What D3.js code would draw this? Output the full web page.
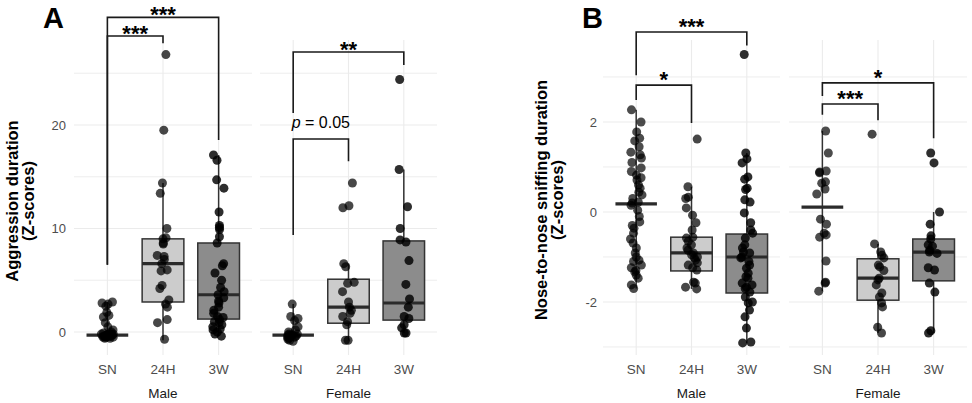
<!DOCTYPE html>
<html><head><meta charset="utf-8">
<script src="https://cdn.jsdelivr.net/npm/d3@7"></script>
<style>body{margin:0;background:#fff}svg{display:block;font-family:"Liberation Sans",Arial,Helvetica,sans-serif}</style>
</head><body><svg id="c" width="972" height="403"></svg>
<script>
// ---------- categories / ticks ----------
const groups = ["SN", "24H", "3W"];
const sexes = ["Male", "Female"];
const aggTicks = [0, 10, 20];
const aggMinor = [5, 15, 25];
const sniffTicks = [-2, 0, 2];
const sniffMinor = [-3, -1, 1, 3];

// ---------- Panel A: aggression duration (Z-scores) ----------
const aggMaleSN = [2.9, 2.8, 2.7, 2.5, 1.9, 1.6, 1.45, 0.9, 0.5, 0.2, 0.0, -0.1, -0.2, -0.2, -0.3, -0.3, -0.3, -0.3, -0.4, -0.4, -0.4, -0.4, -0.5, -0.5, -0.5, -0.3, -0.2, -0.4, -0.3, -0.5, -0.6, -0.6];
const aggMale24H = [26.8, 19.5, 14.4, 13.4, 10.0, 9.1, 9.0, 8.6, 8.5, 7.4, 7.3, 7.0, 6.6, 6.0, 5.9, 4.5, 4.2, 3.1, 2.7, 2.4, 1.2, 0.9, -0.7];
const aggMale3W = [17.1, 16.6, 14.7, 13.9, 11.6, 10.3, 10.1, 9.9, 9.2, 8.6, 6.6, 6.4, 5.7, 5.0, 4.3, 3.9, 3.6, 3.3, 3.0, 2.8, 2.4, 2.1, 1.8, 1.5, 1.4, 1.2, 1.0, 0.9, 0.7, 0.5, 0.3, 0.2, 0.0, -0.2, -0.4];
const aggFemaleSN = [2.7, 1.5, 1.3, 1.1, 0.5, 0.2, 0.0, -0.2, -0.3, -0.3, -0.4, -0.5, -0.6, -0.7, -0.8, -0.9, -0.3, -0.2, -0.5];
const aggFemale24H = [14.4, 12.2, 12.0, 6.6, 6.3, 4.8, 4.7, 3.9, 2.9, 2.4, 2.1, 1.8, 1.5, 1.0, 0.7, -0.8, -0.8];
const aggFemale3W = [24.4, 15.7, 12.1, 10.0, 8.9, 8.7, 6.9, 4.6, 3.2, 2.4, 1.5, 1.3, 0.7, 0.4, -0.1, -0.1];

// box statistics (SN, 24H, 3W); null = no box drawn
const aggMaleQ1 = [null, 2.9, 1.25];
const aggMaleMed = [-0.3, 6.6, 3.6];
const aggMaleQ3 = [null, 9.0, 8.6];
const aggMaleLo = [-0.5, -0.8, -0.4];
const aggMaleHi = [2.9, 14.4, 17.1];
const aggFemaleQ1 = [null, 0.85, 1.15];
const aggFemaleMed = [-0.3, 2.4, 2.8];
const aggFemaleQ3 = [null, 5.1, 8.8];
const aggFemaleLo = [-0.9, -0.8, -0.1];
const aggFemaleHi = [2.7, 6.6, 15.7];

// significance brackets: [from, to, top, leftEnd, rightEnd, label]
const aggMaleSig = [["SN", "3W", 30.4, 6.5, 18.55, "***"], ["SN", "24H", 28.6, 6.5, 27.9, "***"]];
const aggFemaleSig = [["SN", "3W", 27.05, 21.16, 25.8, "**"], ["SN", "24H", 18.65, 9.37, 16.5, "p = 0.05"]];

// ---------- Panel B: nose-to-nose sniffing duration (Z-scores) ----------
const sniffMaleSN = [2.27, 2.0, 1.78, 1.64, 1.58, 1.45, 1.33, 1.27, 1.2, 1.1, 0.98, 0.9, 0.82, 0.76, 0.71, 0.6, 0.53, 0.44, 0.38, 0.3, 0.22, 0.2, 0.15, 0.04, -0.1, -0.22, -0.3, -0.36, -0.47, -0.6, -0.69, -0.8, -0.91, -1.0, -1.07, -1.1, -1.18, -1.24, -1.3, -1.33, -1.4, -1.47, -1.62, -1.7];
const sniffMale24H = [1.62, 0.56, 0.33, 0.3, 0.09, -0.07, -0.24, -0.4, -0.58, -0.56, -0.65, -0.73, -0.8, -0.85, -0.91, -0.95, -1.0, -1.02, -1.07, -1.13, -1.18, -1.24, -1.29, -1.56, -1.58, -1.67, -1.71];
const sniffMale3W = [3.5, 1.31, 1.18, 1.09, 0.78, 0.73, 0.53, 0.5, 0.27, 0.22, -0.02, -0.24, -0.4, -0.47, -0.58, -0.73, -0.8, -0.89, -0.91, -1.0, -1.02, -1.1, -1.18, -1.25, -1.36, -1.44, -1.47, -1.58, -1.62, -1.67, -1.7, -1.78, -1.89, -2.0, -2.02, -2.18, -2.33, -2.58, -2.89, -2.91];
const sniffFemaleSN = [1.8, 1.31, 0.91, 0.89, 0.87, 0.67, 0.64, 0.51, 0.4, -0.16, -0.27, -0.47, -0.51, -0.56, -1.09, -1.56, -1.58, -1.76];
const sniffFemale24H = [1.73, -0.71, -0.89, -0.96, -1.02, -1.18, -1.22, -1.3, -1.47, -1.51, -1.62, -1.8, -1.89, -2.02, -2.11, -2.56, -2.69];
const sniffFemale3W = [1.31, 1.09, 0.0, -0.27, -0.53, -0.6, -0.73, -0.76, -0.85, -0.89, -0.92, -1.24, -1.29, -1.58, -1.78, -2.64, -2.69];

const sniffMaleQ1 = [null, -1.31, -1.8];
const sniffMaleMed = [0.18, -0.91, -1.0];
const sniffMaleQ3 = [null, -0.56, -0.49];
const sniffMaleLo = [-1.7, -1.71, -2.91];
const sniffMaleHi = [2.27, 0.56, 1.31];
const sniffFemaleQ1 = [null, -1.96, -1.53];
const sniffFemaleMed = [0.11, -1.47, -0.89];
const sniffFemaleQ3 = [null, -1.04, -0.6];
const sniffFemaleLo = [-1.76, -2.69, -2.69];
const sniffFemaleHi = [1.8, -0.71, 0.0];

const sniffMaleSig = [["SN", "3W", 4.0, 3.04, 3.7, "***"], ["SN", "24H", 2.82, 2.49, 1.98, "*"]];
const sniffFemaleSig = [["SN", "3W", 2.87, 2.58, 1.64, "*"], ["SN", "24H", 2.4, 2.16, 2.04, "***"]];

// ---------- drawing ----------
const svg = d3.select("#c");
const boxFill = {"SN": "none", "24H": "#cccccc", "3W": "#8c8c8c"};
const ptOpacity = {"SN": 0.7, "24H": 0.72, "3W": 0.82};
const PT = 355, PTOP = 40;

function jit(i, k) {
  const s = Math.sin((i + 1) * 12.9898 + k * 78.233) * 43758.5453;
  return ((s - Math.floor(s)) - 0.5) * 2;
}

function drawPanel(cfg) {
  const y = d3.scaleLinear().domain(cfg.yDomain).range([PT, PTOP]);
  const g = svg.append("g");
  // y tick labels
  g.append("g").selectAll("text").data(cfg.ticks).join("text")
    .attr("x", cfg.tickX).attr("y", d => y(d)).attr("dy", "0.35em")
    .attr("text-anchor", "end").attr("font-size", 13).attr("fill", "#4d4d4d")
    .text(d => d);
  // y title
  cfg.title.forEach((t, i) => {
    g.append("text").attr("transform", `translate(${cfg.titleX[i]},${cfg.titleY}) rotate(-90)`)
      .attr("text-anchor", "middle").attr("font-size", 16.5).attr("font-weight", "bold")
      .attr("fill", "#000").text(t);
  });
  // panel letter
  g.append("text").attr("x", cfg.letterX).attr("y", 28).attr("font-size", 29)
    .attr("font-weight", "bold").attr("fill", "#000").text(cfg.letter);

  cfg.facets.forEach((f, fi) => {
    const x = d3.scalePoint().domain(groups).range([f.x0, f.x1]).padding(0.6);
    const bw = x.step() * 0.75;
    const fg = g.append("g");
    // grid
    fg.selectAll(".mn").data(cfg.minor).join("line")
      .attr("x1", f.x0).attr("x2", f.x1).attr("y1", d => y(d)).attr("y2", d => y(d))
      .attr("stroke", "#ebebeb").attr("stroke-width", 0.9);
    fg.selectAll(".mj").data(cfg.ticks).join("line")
      .attr("x1", f.x0).attr("x2", f.x1).attr("y1", d => y(d)).attr("y2", d => y(d))
      .attr("stroke", "#ebebeb").attr("stroke-width", 1.1);
    fg.selectAll(".vx").data(groups).join("line")
      .attr("x1", d => x(d)).attr("x2", d => x(d)).attr("y1", PTOP).attr("y2", PT)
      .attr("stroke", "#ebebeb").attr("stroke-width", 1.1);
    // x tick labels
    fg.selectAll(".xt").data(groups).join("text")
      .attr("x", d => x(d)).attr("y", 374).attr("text-anchor", "middle")
      .attr("font-size", 13.5).attr("fill", "#4d4d4d").text(d => d);
    // facet label
    fg.append("text").attr("x", (f.x0 + f.x1) / 2).attr("y", 398).attr("text-anchor", "middle")
      .attr("font-size", 13.5).attr("fill", "#1a1a1a").text(f.sex);
    // boxes
    groups.forEach((gr, i) => {
      const cx = x(gr);
      fg.append("line").attr("x1", cx).attr("x2", cx)
        .attr("y1", y(f.lo[i])).attr("y2", y(f.hi[i]))
        .attr("stroke", "#333").attr("stroke-width", 1.5);
      if (f.q1[i] !== null) {
        fg.append("rect").attr("x", cx - bw / 2).attr("width", bw)
          .attr("y", y(f.q3[i])).attr("height", y(f.q1[i]) - y(f.q3[i]))
          .attr("fill", boxFill[gr]).attr("stroke", "#333").attr("stroke-width", 1.5);
      }
      fg.append("line").attr("x1", cx - bw / 2).attr("x2", cx + bw / 2)
        .attr("y1", y(f.med[i])).attr("y2", y(f.med[i]))
        .attr("stroke", "#2b2b2b").attr("stroke-width", 3.2);
    });
    // points
    groups.forEach((gr, i) => {
      const cx = x(gr);
      fg.append("g").selectAll("circle").data(f.values[i]).join("circle")
        .attr("cx", (d, j) => cx + jit(j, fi * 3 + i + cfg.seed) * 6)
        .attr("cy", d => y(d)).attr("r", 4.5)
        .attr("fill", "#000").attr("fill-opacity", ptOpacity[gr]);
    });
    // brackets
    f.sig.forEach(b => {
      const xl = x(b[0]), xr = x(b[1]);
      fg.append("path")
        .attr("d", `M${xl},${y(b[3])}V${y(b[2])}H${xr}V${y(b[4])}`)
        .attr("fill", "none").attr("stroke", "#1a1a1a").attr("stroke-width", 1.6);
      const t = fg.append("text").attr("x", (xl + xr) / 2).attr("text-anchor", "middle").attr("fill", "#000");
      if (b[5].startsWith("p")) {
        t.attr("y", y(b[2]) - 11).attr("font-size", 16);
        t.append("tspan").attr("font-style", "italic").text("p");
        t.append("tspan").text(b[5].slice(1));
      } else {
        t.attr("y", y(b[2]) + cfg.starOff).attr("font-size", 22).attr("font-weight", "bold").text(b[5]);
      }
    });
  });
}

drawPanel({
  letter: "A", letterX: 43, seed: 0,
  yDomain: [-2.222, 28.213], ticks: aggTicks, minor: aggMinor, tickX: 66,
  title: ["Aggression duration", "(Z-scores)"], titleX: [18, 34], titleY: 201,
  starOff: 5,
  facets: [
    {sex: sexes[0], x0: 74, x1: 252, values: [aggMaleSN, aggMale24H, aggMale3W],
     q1: aggMaleQ1, med: aggMaleMed, q3: aggMaleQ3, lo: aggMaleLo, hi: aggMaleHi, sig: aggMaleSig},
    {sex: sexes[1], x0: 260, x1: 437, values: [aggFemaleSN, aggFemale24H, aggFemale3W],
     q1: aggFemaleQ1, med: aggFemaleMed, q3: aggFemaleQ3, lo: aggFemaleLo, hi: aggFemaleHi, sig: aggFemaleSig}
  ]
});

drawPanel({
  letter: "B", letterX: 582, seed: 7,
  yDomain: [-3.178, 3.822], ticks: sniffTicks, minor: sniffMinor, tickX: 597,
  title: ["Nose-to-nose sniffing duration", "(Z-scores)"], titleX: [547, 563], titleY: 200,
  starOff: 2,
  facets: [
    {sex: sexes[0], x0: 603, x1: 780, values: [sniffMaleSN, sniffMale24H, sniffMale3W],
     q1: sniffMaleQ1, med: sniffMaleMed, q3: sniffMaleQ3, lo: sniffMaleLo, hi: sniffMaleHi, sig: sniffMaleSig},
    {sex: sexes[1], x0: 789, x1: 967, values: [sniffFemaleSN, sniffFemale24H, sniffFemale3W],
     q1: sniffFemaleQ1, med: sniffFemaleMed, q3: sniffFemaleQ3, lo: sniffFemaleLo, hi: sniffFemaleHi, sig: sniffFemaleSig}
  ]
});
</script>
</body></html>
